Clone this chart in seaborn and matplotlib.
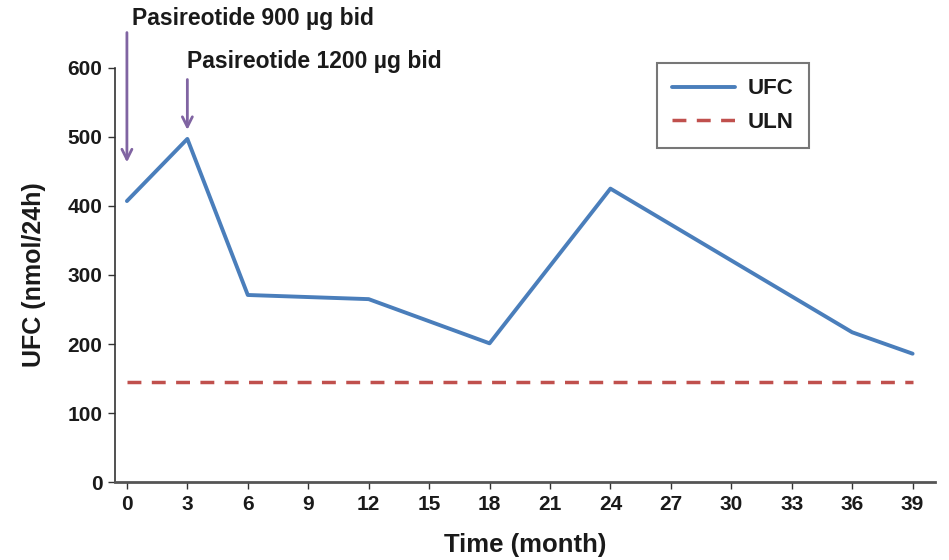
import matplotlib
matplotlib.use("Agg")
import matplotlib.pyplot as plt
import seaborn as sns
import pandas as pd

months = [0, 3, 6, 12, 18, 24, 36, 39]
ufc = [407, 497, 271, 265, 201, 425, 217, 186]
uln_value = 145
x_ticks = list(range(0, 40, 3))
y_ticks = [0, 100, 200, 300, 400, 500, 600]
annotations = [("Pasireotide 900 µg bid", 0), ("Pasireotide 1200 µg bid", 3)]

sns.set_theme(style="white")
plt.rcParams['font.family'] = ['Liberation Sans', 'DejaVu Sans']

fig = plt.figure(figsize=(9.49, 5.6), dpi=100)
ax = fig.add_axes([0.121, 0.139, 0.864, 0.74])

df = pd.DataFrame({"Time": months, "UFC": ufc})
sns.lineplot(data=df, x="Time", y="UFC", ax=ax, color="#4A7EBB", linewidth=2.8, label="UFC")
uln_df = pd.DataFrame({"Time": [0, 39], "ULN": [uln_value, uln_value]})
sns.lineplot(data=uln_df, x="Time", y="ULN", ax=ax, color="#C0504D", linewidth=2.5,
             label="ULN")
ax.lines[-1].set_linestyle((0, (4, 3)))

ax.set_xlim(-0.6, 40.1)
ax.set_ylim(0, 600)
ax.set_xticks(x_ticks)
ax.set_yticks(y_ticks)
ax.tick_params(axis='both', direction='out', length=5, width=1, color='#333333',
               labelsize=15, pad=4, bottom=True, left=True, labelcolor='#1a1a1a')
for lab in ax.get_xticklabels() + ax.get_yticklabels():
    lab.set_fontweight('bold')
ax.spines['top'].set_visible(False)
ax.spines['right'].set_visible(False)
ax.spines['left'].set_color('#333333')
ax.spines['bottom'].set_color('#555555')
ax.spines['bottom'].set_linewidth(2)
ax.spines['left'].set_linewidth(1.2)

ax.set_xlabel("Time (month)", fontsize=18.5, fontweight='bold', labelpad=14, color='#1a1a1a')
ax.set_ylabel("UFC (nmol/24h)", fontsize=18, fontweight='bold', labelpad=15, color='#1a1a1a')

# arrows
arrow_kw = dict(arrowstyle='->,head_length=0.6,head_width=0.3', color='#8064A2', lw=2)
ax.annotate("", xy=(0, 459), xytext=(0, 655), arrowprops=arrow_kw, annotation_clip=False)
ax.annotate("", xy=(3, 506), xytext=(3, 587), arrowprops=arrow_kw, annotation_clip=False)
ax.text(0.25, 672, annotations[0][0], fontsize=16.5, fontweight='bold', va='center', ha='left',
        clip_on=False, color='#1a1a1a')
ax.text(3.0, 609, annotations[1][0], fontsize=16.5, fontweight='bold', va='center', ha='left',
        clip_on=False, color='#1a1a1a')

leg = ax.legend(loc='upper left', bbox_to_anchor=(0.661, 1.012), frameon=True, fancybox=False,
                edgecolor='#555555', fontsize=16, handlelength=2.8, borderpad=0.7,
                labelspacing=0.55, handletextpad=0.6, borderaxespad=0)
leg.get_frame().set_linewidth(1.5)
for t in leg.get_texts():
    t.set_fontweight('bold')
    t.set_color('#1a1a1a')

fig.savefig("out.png", dpi=100)
